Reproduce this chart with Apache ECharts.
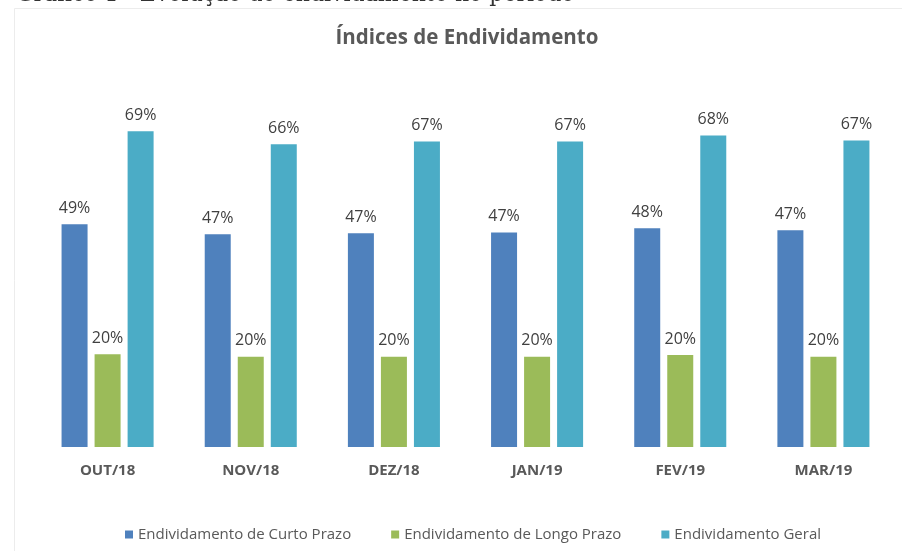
<!DOCTYPE html>
<html>
<head>
<meta charset="utf-8">
<script src="https://cdn.jsdelivr.net/npm/echarts@6/dist/echarts.min.js"></script>
<style>
  html, body { margin: 0; padding: 0; background: #fff; }
  #chart { width: 902px; height: 551px; }
</style>
</head>
<body>
<div id="chart"></div>
<script>
const months = ['OUT/18', 'NOV/18', 'DEZ/18', 'JAN/19', 'FEV/19', 'MAR/19'];
const curtoPrazo = [48.7, 46.5, 46.7, 46.9, 47.8, 47.4];
const longoPrazo = [20.3, 19.7, 19.7, 19.7, 20.1, 19.7];
const geral = [69.0, 66.2, 66.8, 66.8, 68.1, 67.0];

const font = '"Open Sans", "Noto Sans", sans-serif';
const pct = p => Math.round(p.value) + '%';

const chart = echarts.init(document.getElementById('chart'));

function barSeries(name, data, color) {
  return {
    name: name,
    type: 'bar',
    data: data,
    barWidth: 26,
    barGap: '27%',
    itemStyle: { color: color },
    label: {
      show: true,
      position: 'top',
      distance: 8,
      formatter: pct,
      color: '#404040',
      fontSize: 16,
      fontFamily: font
    }
  };
}

const option = {
  animation: false,
  backgroundColor: '#fff',
  graphic: [
    {
      type: 'rect',
      shape: { x: 14.5, y: 8.5, width: 900, height: 560 },
      style: { fill: 'none', stroke: '#ececec', lineWidth: 1 }
    },
    {
      type: 'text',
      left: 16,
      top: -16,
      style: {
        text: 'Gráfico 1 - Evolução do endividamento no período',
        fill: '#333',
        font: '22px "DejaVu Serif", serif'
      }
    }
  ],
  title: {
    text: 'Índices de Endividamento',
    left: 462,
    textAlign: 'center',
    top: 23,
    textStyle: {
      color: '#595959',
      fontSize: 20.5,
      fontWeight: 'bold',
      fontFamily: font
    }
  },
  legend: {
    bottom: 4,
    left: 120,
    itemWidth: 8,
    itemHeight: 8,
    itemGap: 40,
    icon: 'rect',
    textStyle: { color: '#595959', fontSize: 15, fontFamily: font },
    data: ['Endividamento de Curto Prazo', 'Endividamento de Longo Prazo', 'Endividamento Geral']
  },
  grid: { left: 36, right: 7, top: 81, bottom: 104 },
  xAxis: {
    type: 'category',
    data: months,
    axisLine: { show: false },
    axisTick: { show: false },
    axisLabel: {
      color: '#595959',
      fontSize: 15,
      fontWeight: 'bold',
      fontFamily: font,
      margin: 16
    }
  },
  yAxis: {
    type: 'value',
    min: 0,
    max: 80,
    show: false
  },
  series: [
    barSeries('Endividamento de Curto Prazo', curtoPrazo, '#4F81BD'),
    barSeries('Endividamento de Longo Prazo', longoPrazo, '#9BBB59'),
    barSeries('Endividamento Geral', geral, '#4BACC6')
  ]
};

chart.setOption(option);
</script>
</body>
</html>
